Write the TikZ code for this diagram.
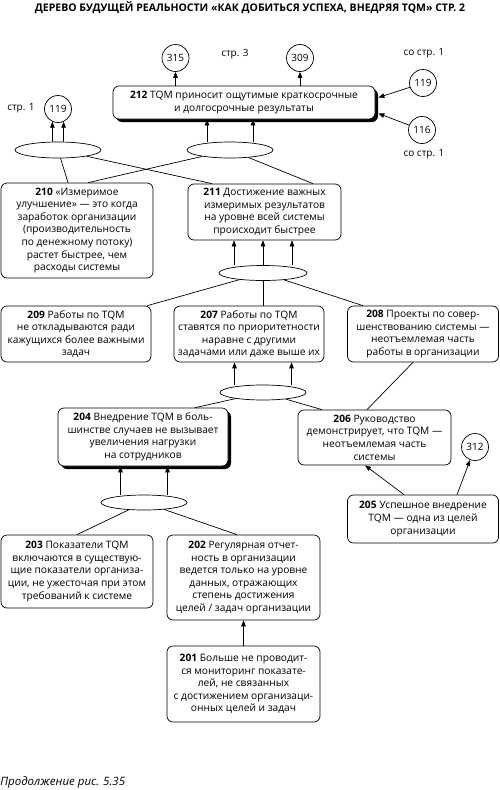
\documentclass[tikz,border=0pt]{standalone}
\usepackage{fontspec}
\setmainfont{Open Sans}
\usetikzlibrary{shapes.geometric,arrows.meta,shadows}

\begin{document}
\begin{tikzpicture}[x=1pt,y=-1pt,line width=0.7pt,
    box/.style = {draw, rounded corners=6pt, align=center, inner sep=1pt,
        font=\fontsize{10.2}{12.6}\selectfont},
    bigbox/.style = {box, fill=white, drop shadow={shadow xshift=3pt, shadow yshift=-3pt, fill=black, opacity=1}},
    ref/.style = {draw, circle, minimum size=27pt, inner sep=0pt, font=\fontsize{10}{12}\selectfont},
    junc/.style = {draw, ellipse, minimum width=86pt, minimum height=16pt, inner sep=0pt},
    note/.style = {font=\fontsize{10}{12}\selectfont},
    arr/.style = {-{Triangle[length=6pt,width=4.5pt]}}]
        \useasboundingbox (0,0) rectangle (500,790);

        \node[font=\bfseries\fontsize{10.5}{12}\selectfont] (title) at (250,8)
            {ДЕРЕВО БУДУЩЕЙ РЕАЛЬНОСТИ «КАК ДОБИТЬСЯ УСПЕХА, ВНЕДРЯЯ TQM» СТР.~2};

        % links to other pages
        \node[ref](c315) at (175.5,58){315};
        \node[ref](c309) at (300,58){309};
        \node[ref](c119r) at (423,83){119};
        \node[ref](c116) at (422,130){116};
        \node[ref](c119l) at (58,109){119};
        \node[ref](c312) at (475,447){312};
        \node[note] at (235,54){стр. 3};
        \node[note] at (424,53){со стр. 1};
        \node[note] at (424,154){со стр. 1};
        \node[note] at (21,108){стр. 1};

        % boxes
        \node[bigbox, minimum width=262pt, minimum height=33pt](212) at (244,102.5)
            {\textbf{212} TQM приносит ощутимые краткосрочные\\и долгосрочные результаты};
        \node[box, minimum width=152pt, minimum height=95pt](210) at (77,230.5)
            {\textbf{210} «Измеримое\\улучшение» — это когда\\заработок организации\\(производительность\\по денежному потоку)\\растет быстрее, чем\\расходы системы};
        \node[box, minimum width=153pt, minimum height=56pt](211) at (264.5,212)
            {\textbf{211} Достижение важных\\измеримых результатов\\на уровне всей системы\\происходит быстрее};
        \node[box, minimum width=150pt, minimum height=56pt](209) at (76,334)
            {\textbf{209} Работы по TQM\\не откладываются ради\\кажущихся более важными\\задач};
        \node[box, minimum width=150pt, minimum height=56pt](207) at (249,334)
            {\textbf{207} Работы по TQM\\ставятся по приоритетности\\наравне с другими\\задачами или даже выше их};
        \node[box, minimum width=151pt, minimum height=56pt](208) at (423,334)
            {\textbf{208} Проекты по совер-\\шенствованию системы —\\неотъемлемая часть\\работы в организации};
        \node[bigbox, minimum width=170pt, minimum height=58pt](204) at (143,437)
            {\textbf{204} Внедрение TQM в боль-\\шинстве случаев не вызывает\\увеличения нагрузки\\на сотрудников};
        \node[box, minimum width=153pt, minimum height=55pt](206) at (374.5,437.5)
            {\textbf{206} Руководство\\демонстрирует, что TQM —\\неотъемлемая часть\\системы};
        \node[box, minimum width=151pt, minimum height=48pt](205) at (423,519)
            {\textbf{205} Успешное внедрение\\TQM — одна из целей\\организации};
        \node[box, minimum width=152pt, minimum height=73pt](203) at (77,571.5)
            {\textbf{203} Показатели TQM\\включаются в существую-\\щие показатели организа-\\ции, не ужесточая при этом\\требований к системе};
        \node[box, minimum width=153pt, minimum height=85pt](202) at (243.5,577.5)
            {\textbf{202} Регулярная отчет-\\ность в организации\\ведется только на уровне\\данных, отражающих\\степень достижения\\целей / задач организации};
        \node[box, minimum width=153pt, minimum height=76pt](201) at (243.5,684)
            {\textbf{201} Больше не проводит-\\ся мониторинг показате-\\лей, не связанных\\с достижением организаци-\\онных целей и задач};

        % junctions
        \node[junc](e1) at (58,150){};
        \node[junc](e2) at (230,150){};
        \node[junc, minimum width=88pt, minimum height=15pt](e3) at (263,273){};
        \node[junc, minimum height=15pt](e4) at (263,392.5){};
        \node[junc, minimum height=15pt](e5) at (144,502.5){};

        \node[font=\itshape\fontsize{11.5}{13}\selectfont, anchor=west, inner sep=0pt] (caption) at (0,782)
            {Продолжение рис. 5.35};

        \path[arr]
        ([xshift=-5.5pt]e1.north) edge (c119l.-114)
        ([xshift=5.5pt]e1.north) edge (c119l.-66)
        ([xshift=-23pt]e2.north) edge ([xshift=-23pt]e2.north |- 212.south)
        ([xshift=23pt]e2.north) edge ([xshift=23pt]e2.north |- 212.south)
        (c315.south |- 212.north) edge (c315.south)
        (c309.south |- 212.north) edge (c309.south)
        (c119r) edge ([xshift=3pt,yshift=5pt]212.east)
        (c116) edge ([xshift=3pt,yshift=-11pt]212.east)
        ([xshift=-29pt]e3.north) edge ([xshift=-29pt]e3.north |- 211.south)
        (e3.north) edge (e3.north |- 211.south)
        ([xshift=29pt]e3.north) edge ([xshift=29pt]e3.north |- 211.south)
        ([xshift=-28.5pt]e4.north) edge ([xshift=-28.5pt]e4.north |- 207.south)
        ([xshift=28.5pt]e4.north) edge ([xshift=28.5pt]e4.north |- 207.south)
        ([xshift=-23.5pt]e5.north) edge ([xshift=-23.5pt]e5.north |- 204.south)
        ([xshift=23.5pt]e5.north) edge ([xshift=23.5pt]e5.north |- 204.south)
        ([xshift=-19pt]205.north) edge ([xshift=-9.5pt]206.south)
        ([xshift=34pt]205.north) edge (c312)
        (201.north) edge (202.south)
        ;

        \path
        (e1) edge ([xshift=-9pt]210.north)
        (e1) edge ([xshift=-52.5pt]211.north)
        (e2) edge ([xshift=11pt]210.north)
        (e2) edge ([xshift=48.5pt]211.north)
        (e3) edge ([xshift=-4pt]209.north east)
        (e3.south) edge (e3.south |- 207.north)
        (e3) edge ([xshift=-60pt]208.north)
        ([xshift=-10pt]208.south) edge ([xshift=-7.5pt]206.north)
        (e4) edge ([xshift=52pt]204.north)
        (e4) edge ([xshift=-52.5pt]206.north)
        (e5) edge (203.north)
        (e5) edge ([xshift=-6.5pt]202.north)
        ;
      \end{tikzpicture}
\end{document}
